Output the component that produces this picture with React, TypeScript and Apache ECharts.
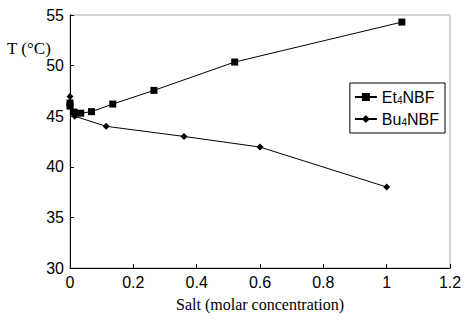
import React, { useEffect, useRef } from "react";
import * as echarts from "echarts";

const et4X = [0, 0, 0.013, 0.034, 0.068, 0.135, 0.265, 0.52, 1.048];
const et4Y = [46.3, 46.0, 45.4, 45.3, 45.45, 46.2, 47.55, 50.35, 54.3];
const bu4X = [0, 0.015, 0.114, 0.36, 0.6, 1.0];
const bu4Y = [46.95, 45.0, 44.0, 43.0, 41.95, 38.0];
const xTicks = { min: 0, max: 1.2, interval: 0.2 };
const yTicks = { min: 30, max: 55, interval: 5 };

export default function App() {
  const ref = useRef<HTMLDivElement>(null);
  useEffect(() => {
    document.body.style.margin = "0";
    const chart = echarts.init(ref.current!, null, { renderer: "svg" });
    const sans = "Liberation Sans, Arial, sans-serif";
    const serif = "Liberation Serif, Times New Roman, serif";
    chart.setOption({
      animation: false,
      backgroundColor: "#fff",
      grid: {
        left: 70,
        right: 17,
        top: 15,
        bottom: 52,
        show: true,
        borderColor: "#aaa",
        borderWidth: 1,
      },
      graphic: [
        {
          type: "text",
          left: 7,
          top: 40,
          style: { text: "T (°C)", font: `17px ${serif}`, fill: "#000" },
        },
      ],
      legend: {
        right: 22,
        top: 83,
        orient: "vertical",
        borderColor: "#000",
        borderWidth: 1,
        padding: [6, 6, 6, 4],
        itemGap: 6,
        itemWidth: 22,
        itemHeight: 10,
        textStyle: {
          fontFamily: sans,
          fontSize: 16,
          color: "#000",
          rich: { sub: { fontSize: 10, verticalAlign: "bottom", padding: [6, 0, 0, 0], fontFamily: sans } },
        },
        formatter: (n: string) => n.replace("4", "{sub|4}"),
        data: ["Et4NBF", "Bu4NBF"],
      },
      xAxis: {
        type: "value",
        min: xTicks.min,
        max: xTicks.max,
        interval: xTicks.interval,
        name: "Salt (molar concentration)",
        nameLocation: "middle",
        nameGap: 28,
        nameTextStyle: { fontFamily: serif, fontSize: 16, color: "#000" },
        axisLine: { onZero: false, lineStyle: { color: "#000", width: 1 } },
        axisTick: { inside: true, length: 4, lineStyle: { color: "#000" } },
        axisLabel: { fontFamily: sans, fontSize: 16, color: "#000", margin: 6 },
        splitLine: { show: false },
      },
      yAxis: {
        type: "value",
        min: yTicks.min,
        max: yTicks.max,
        interval: yTicks.interval,
        axisLine: { show: true, lineStyle: { color: "#000", width: 1 } },
        axisTick: { show: true, inside: true, length: 4, lineStyle: { color: "#000" } },
        axisLabel: { fontFamily: sans, fontSize: 16, color: "#000", margin: 6 },
        splitLine: { show: false },
      },
      series: [
        {
          name: "Et4NBF",
          type: "line",
          data: et4X.map((x, i) => [x, et4Y[i]]),
          symbol: "rect",
          symbolSize: 7,
          itemStyle: { color: "#000" },
          lineStyle: { color: "#000", width: 1 },
        },
        {
          name: "Bu4NBF",
          type: "line",
          data: bu4X.map((x, i) => [x, bu4Y[i]]),
          symbol: "diamond",
          symbolSize: 7,
          itemStyle: { color: "#000" },
          lineStyle: { color: "#000", width: 1 },
        },
      ],
    });
    return () => chart.dispose();
  }, []);
  return <div ref={ref} style={{ width: 467, height: 320 }} />;
}
